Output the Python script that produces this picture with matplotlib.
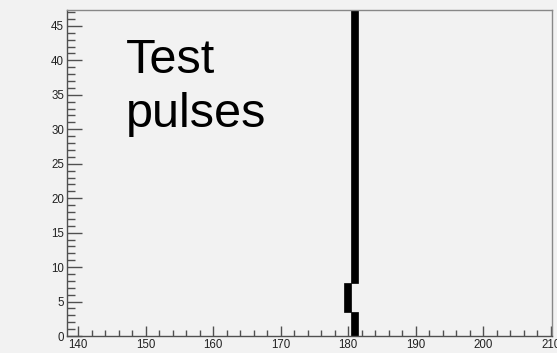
import matplotlib
matplotlib.use("Agg")
from matplotlib import pyplot as plt
from matplotlib.ticker import MultipleLocator

# pulse position per y-range (step line of the test pulses)
pulse_x = [180.9, 179.9, 180.9]
y_low = [0, 3.5, 7.7]
y_high = [3.5, 7.7, 50]
bar_width = 1.1

bg = "#f2f2f2"
frame = "#505050"

fig = plt.figure(figsize=(5.57, 3.53), dpi=100, facecolor=bg)
ax = fig.add_axes([0.1203, 0.048, 0.8713, 0.9237], facecolor=bg)

heights = [h - l for l, h in zip(y_low, y_high)]
ax.bar(pulse_x, heights, bottom=y_low, width=bar_width, color="black",
       edgecolor="black", linewidth=0.5, clip_on=True)

ax.set_xlim(138.33, 210.24)
ax.set_ylim(0, 47.3)

ax.xaxis.set_major_locator(MultipleLocator(10))
ax.xaxis.set_minor_locator(MultipleLocator(2))
ax.yaxis.set_major_locator(MultipleLocator(5))
ax.yaxis.set_minor_locator(MultipleLocator(1))

ax.tick_params(axis="both", which="both", direction="in", color=frame,
               width=1, labelsize=8.3, labelcolor="#222222",
               top=False, right=False)
ax.tick_params(axis="y", which="major", length=11, pad=2)
ax.tick_params(axis="y", which="minor", length=6)
ax.tick_params(axis="x", which="major", length=7, pad=2)
ax.tick_params(axis="x", which="minor", length=4)

for lab in ax.get_xticklabels() + ax.get_yticklabels():
    lab.set_family("Liberation Sans")

for s in ax.spines.values():
    s.set_color(frame)
    s.set_linewidth(1)
ax.spines["top"].set_color("#888888")
ax.spines["right"].set_color("#888888")

ax.text(0.121, 0.915, "Test\npulses", transform=ax.transAxes,
        fontsize=35, family="Liberation Sans", color="black",
        linespacing=1.27, va="top", ha="left")

plt.savefig("out.png", dpi=100, facecolor=bg)
